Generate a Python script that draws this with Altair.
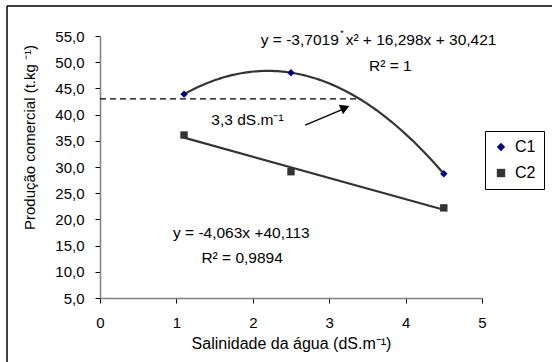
import altair as alt
import pandas as pd

# Observed data
salinity = [1.1, 2.5, 4.5]
c1_values = [43.9, 48.0, 28.7]
c2_values = [36.1, 29.1, 22.2]
series_names = ["C1", "C2"]

# Axis ticks
x_ticks = [0, 1, 2, 3, 4, 5]
y_ticks = [5, 10, 15, 20, 25, 30, 35, 40, 45, 50, 55]

# Threshold line (dashed)
threshold_y = 43.0
threshold_x = [0.0, 3.4]

# Centered annotations (text, x, y)
ann_text = ["R² = 1", "y = -4,063x +40,113", "R² = 0,9894", "3,3 dS.m⁻¹"]
ann_x = [3.80, 1.85, 1.86, 1.93]
ann_y = [49.3, 17.4, 12.6, 38.9]

# C1 equation split around the superscript asterisk
eq_left = "y = -3,7019"
eq_right = "x² + 16,298x + 30,421"
eq_y = 54.2
eq_left_x = 3.125
eq_star_x = 3.168
eq_right_x = 3.215

# Arrow (start -> end) and its head
arrow_x = [2.686, 3.16]
arrow_y = [38.0, 40.9]
head_x = [3.19]
head_y = [41.2]

FONT = "Liberation Sans"

pts = pd.DataFrame({
    "x": salinity * 2,
    "y": c1_values + c2_values,
    "serie": [series_names[0]] * 3 + [series_names[1]] * 3,
})
c1 = pts[pts.serie == "C1"]
c2 = pts[pts.serie == "C2"]

xs = alt.Scale(domain=[0, 5], nice=False, zero=False)
ys = alt.Scale(domain=[5, 55], nice=False, zero=False)

xax = alt.Axis(values=x_ticks, format="d", title="Salinidade da água (dS.m⁻¹)",
               grid=False, domainColor="#808080", domainWidth=1.5, tickColor="#000000",
               tickSize=5, labelFontSize=15, labelPadding=12, titleFontSize=16,
               titleFontWeight="normal", titlePadding=5, labelFont=FONT, titleFont=FONT,
               labelColor="#000", titleColor="#000", labelFlush=False, labelOverlap=False)
yax = alt.Axis(values=y_ticks, title="Produção comercial (t.kg ⁻¹)",
               labelExpr="replace(format(datum.value, '.1f'), '.', ',')",
               grid=False, domainColor="#808080", domainWidth=1.5, tickColor="#000000",
               tickSize=5, labelFontSize=15, labelPadding=11, titleFontSize=15,
               titleFontWeight="normal", titleX=-63, titleY=101, labelFont=FONT,
               titleFont=FONT, labelColor="#000", titleColor="#000",
               labelFlush=False, labelOverlap=False)


def X(field="x"):
    return alt.X(f"{field}:Q", scale=xs, axis=xax)


def Y(field="y"):
    return alt.Y(f"{field}:Q", scale=ys, axis=yax)


base = alt.Chart(pts)

curve1 = alt.Chart(c1).transform_regression("x", "y", method="poly", order=2).mark_line(
    color="#333333", strokeWidth=2.2
).encode(x=X(), y=Y())

line2 = alt.Chart(c2).transform_regression("x", "y", method="linear").mark_line(
    color="#333333", strokeWidth=2.2
).encode(x=X(), y=Y())

points = base.mark_point(filled=True, opacity=1, size=55).encode(
    x=X(),
    y=Y(),
    color=alt.Color("serie:N", scale=alt.Scale(domain=series_names, range=["#000080", "#333333"]),
                    legend=alt.Legend(title=None, orient="none", legendX=385, legendY=95,
                                      labelFontSize=16, labelFont=FONT, labelColor="#000",
                                      symbolSize=70, rowPadding=10, padding=8,
                                      strokeColor="#000", fillColor="#fff", labelOffset=6)),
    shape=alt.Shape("serie:N", scale=alt.Scale(domain=series_names, range=["diamond", "square"])),
)

thr = alt.Chart(pd.DataFrame({"x": threshold_x, "y": [threshold_y] * 2})).mark_line(
    color="#000", strokeWidth=1.2, strokeDash=[6, 4]
).encode(x=X(), y=Y())

ann = alt.Chart(pd.DataFrame({"t": ann_text, "x": ann_x, "y": ann_y})).mark_text(
    fontSize=15.5, font=FONT, color="#000", align="center", baseline="middle"
).encode(x=X(), y=Y(), text="t:N")

eq_l = alt.Chart(pd.DataFrame({"t": [eq_left], "x": [eq_left_x], "y": [eq_y]})).mark_text(
    fontSize=15.5, font=FONT, color="#000", align="right", baseline="middle"
).encode(x=X(), y=Y(), text="t:N")

eq_r = alt.Chart(pd.DataFrame({"t": [eq_right], "x": [eq_right_x], "y": [eq_y]})).mark_text(
    fontSize=15.5, font=FONT, color="#000", align="left", baseline="middle"
).encode(x=X(), y=Y(), text="t:N")

star = alt.Chart(pd.DataFrame({"x": [eq_star_x], "y": [55.6]})).mark_text(
    text="*", fontSize=9, font=FONT, color="#000"
).encode(x=X(), y=Y())

arrow = alt.Chart(pd.DataFrame({"x": [arrow_x[0]], "y": [arrow_y[0]], "x2": [arrow_x[1]], "y2": [arrow_y[1]]})).mark_rule(
    color="#000", strokeWidth=1.5
).encode(x=X(), y=Y(), x2="x2:Q", y2="y2:Q")

head = alt.Chart(pd.DataFrame({"x": head_x, "y": head_y})).mark_point(
    shape="triangle", filled=True, color="#000", opacity=1, size=110, angle=67
).encode(x=X(), y=Y())

frame_top = alt.Chart(pd.DataFrame({"a": [0]})).mark_rule(color="#000", strokeWidth=1.5).encode(
    x=alt.value(-93), x2=alt.value(460), y=alt.value(-30))
frame_left = alt.Chart(pd.DataFrame({"a": [0]})).mark_rule(color="#000", strokeWidth=1.5).encode(
    x=alt.value(-93), y=alt.value(-30), y2=alt.value(340))

chart = alt.layer(curve1, frame_top, frame_left, thr, line2, points, ann, eq_l, eq_r, star, arrow, head).properties(
    width=382, height=262,
    autosize=alt.AutoSizeParams(type="none"),
    padding={"left": 100, "top": 36, "right": 70, "bottom": 64},
    background="#ffffff",
).configure_view(stroke=None).configure_axis(labelOverlap=False)

chart.save("out.html", embed_options={"renderer": "svg", "actions": False})
